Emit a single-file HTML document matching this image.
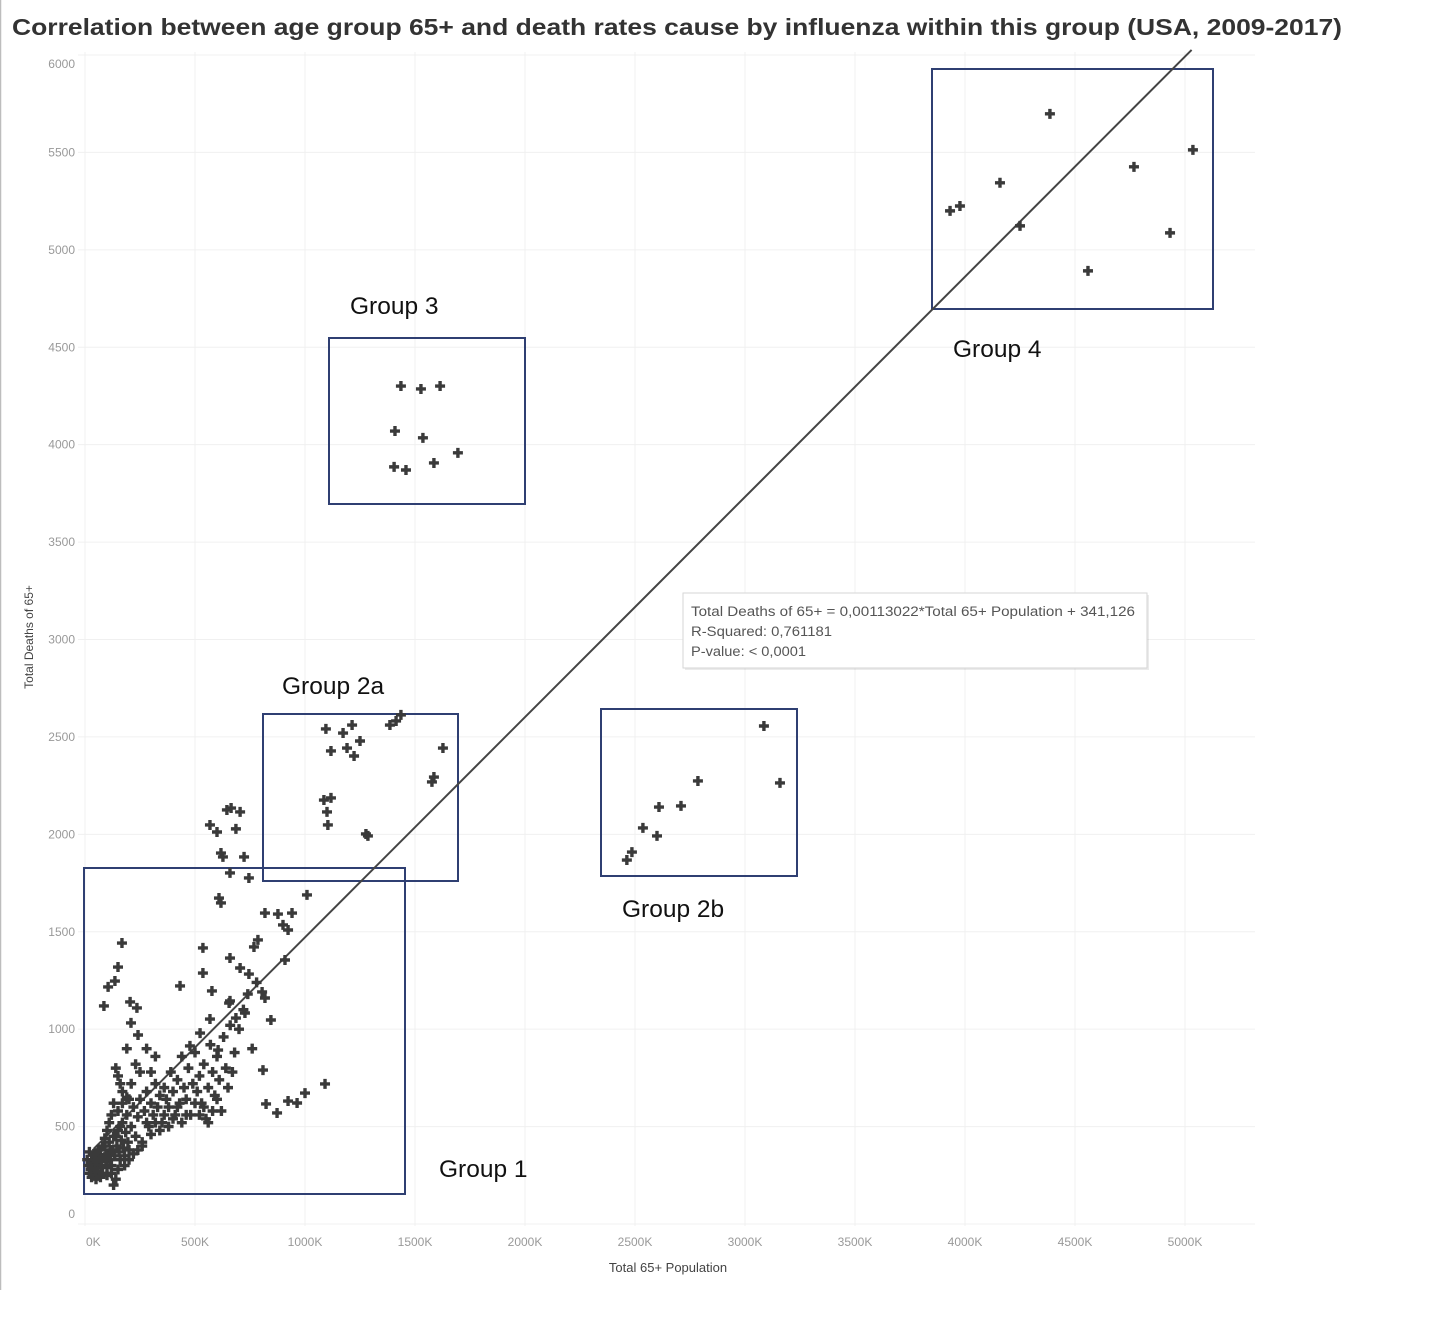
<!DOCTYPE html>
<html><head><meta charset="utf-8">
<style>
html,body{margin:0;padding:0;background:#fff;}
svg{display:block;font-family:"Liberation Sans",sans-serif;}
</style></head>
<body>
<svg id="chart" width="1448" height="1318" viewBox="0 0 1448 1318">
<line x1="0.5" y1="0" x2="0.5" y2="1290" stroke="#bdbdbd" stroke-width="1.5"/>
<text x="12" y="35" font-size="23" font-weight="bold" fill="#333" textLength="1330" lengthAdjust="spacingAndGlyphs">Correlation between age group 65+ and death rates cause by influenza within this group (USA, 2009-2017)</text>
<g id="grid"></g>
<g id="ticks"></g>
<text x="668" y="1272" font-size="13" fill="#444" text-anchor="middle">Total 65+ Population</text>
<text transform="translate(33,637) rotate(-90)" font-size="12" fill="#444" text-anchor="middle">Total Deaths of 65+</text>
<g id="boxes"></g>
<g id="line"></g>
<g id="points"></g>
<g>
<text x="350" y="314" font-size="24.5" fill="#111">Group 3</text>
<text x="953" y="357" font-size="24.5" fill="#111">Group 4</text>
<text x="282" y="694" font-size="24.5" fill="#111">Group 2a</text>
<text x="622" y="917" font-size="24.5" fill="#111">Group 2b</text>
<text x="439" y="1177" font-size="24.5" fill="#111">Group 1</text>
</g>
<g>
<rect x="685" y="595" width="464" height="75" fill="#000" opacity="0.08"/>
<rect x="683" y="593" width="464" height="75" fill="#fff" stroke="#d6d6d6"/>
<text x="691" y="616" font-size="13.5" fill="#555" textLength="444" lengthAdjust="spacingAndGlyphs">Total Deaths of 65+ = 0,00113022*Total 65+ Population + 341,126</text>
<text x="691" y="636" font-size="13.5" fill="#555" textLength="141" lengthAdjust="spacingAndGlyphs">R-Squared: 0,761181</text>
<text x="691" y="656" font-size="13.5" fill="#555" textLength="115" lengthAdjust="spacingAndGlyphs">P-value: &lt; 0,0001</text>
</g>
</svg>
<script>
const xTicks = [0,500,1000,1500,2000,2500,3000,3500,4000,4500,5000];
const xTickLabels = ["0K","500K","1000K","1500K","2000K","2500K","3000K","3500K","4000K","4500K","5000K"];
const yTicks = [0,500,1000,1500,2000,2500,3000,3500,4000,4500,5000,5500,6000];
const slope = 0.00113022;
const intercept = 341.126;
// population in thousands
const group4Pop = [3932,3977,4159,4250,4386,4559,4768,4932,5036];
const group4Deaths = [5200,5225,5344,5123,5698,4892,5426,5087,5513];
const group3Pop = [1436,1527,1614,1409,1536,1405,1459,1586,1695];
const group3Deaths = [4301,4286,4301,4070,4035,3886,3870,3906,3958];
const group2bPop = [3086,3159,2786,2709,2609,2536,2600,2486,2463];
const group2bDeaths = [2556,2264,2274,2146,2140,2033,1992,1909,1868];
const group2aPop = [1095,1173,1214,1118,1191,1223,1250,1386,1414,1436,1627,1586,1577,1086,1118,1100,1104,1277,1286,568,645,664,705,600,686,618,627,723,659,745,609,618,1009];
const group2aDeaths = [2541,2520,2561,2428,2443,2402,2479,2561,2582,2613,2443,2294,2269,2176,2187,2115,2048,2002,1992,2048,2125,2135,2115,2012,2028,1904,1884,1884,1802,1776,1673,1648,1689];
const group1Pop = [818,877,900,923,941,768,786,536,659,705,745,909,805,818,845,809,823,873,923,964,1000,1091,568,659,605,477,432,168,150,105,136,205,236,86,209,241,536,577,655,686,727,523,
20,25,30,35,40,45,50,55,60,65,70,75,80,85,90,95,100,105,110,115,120,125,130,135,140,145,150,155,160,165,170,175,180,185,190,195,200,210,220,230,240,250,260,270,280,290,300,310,320,330,340,350,360,370,380,390,400,410,420,430,440,450,460,470,480,490,500,510,520,530,540,550,560,570,580,590,600,610,620,630,640,650,660,670,680,700,720,740,760,780,140,150,160,170,130,120,110,100,90,80,60,40,30,50,70,100,120,150,180,200,220,240,260,130,280,300,320,340,360,380,400,420,440,460,500,520,540,560,580,600,150,170,190,210,230,190,280,320,300,250,200,160,140,115,95,75,55,45,25,15,10,20];
const group1Deaths = [1596,1591,1535,1509,1596,1422,1458,1417,1365,1314,1283,1355,1191,1160,1047,790,616,570,631,621,672,719,1052,1145,893,914,1222,1442,1319,1217,1247,1140,1109,1119,1032,970,1288,1196,1134,1057,1083,980,
260,300,330,280,250,310,350,290,270,330,380,300,260,340,400,320,290,360,420,330,300,380,450,350,230,400,480,370,330,430,520,390,350,470,560,420,380,500,600,450,550,640,420,580,680,500,620,560,720,600,660,520,700,640,600,780,680,560,740,620,860,700,640,800,560,720,880,680,760,620,820,540,700,920,780,660,860,740,580,960,800,700,1020,780,880,1000,1100,1180,900,1240,800,760,720,680,620,560,520,480,440,400,380,360,240,230,240,250,260,280,300,330,360,380,400,200,520,460,520,480,560,500,540,600,520,560,620,560,600,520,580,640,580,620,650,720,820,900,900,860,780,780,640,500,450,380,350,330,320,270,280,300,330,370];

const X0 = 85, XPER = 110/500;     // px per K
const Y0 = 1224, YPER = 1169/6000; // px per death
function xs(v){ return X0 + v*XPER; }
function ys(v){ return Y0 - v*YPER; }
const NS = "http://www.w3.org/2000/svg";
function mk(tag, attrs, parent){ const e=document.createElementNS(NS,tag); for(const k in attrs) e.setAttribute(k,attrs[k]); parent.appendChild(e); return e; }

const grid = document.getElementById('grid'), ticks = document.getElementById('ticks');
xTicks.forEach((t,i)=>{
  const l = mk('line',{x1:xs(t),x2:xs(t),y1:52,y2:1226,stroke:'#f0f0f0','stroke-width':1},grid);
  
  
  const tx = mk('text',{x:xs(t)+(i===0?1:0),y:1246,'font-size':12,fill:'#999','text-anchor':i===0?'start':'middle'},ticks);
  tx.textContent = xTickLabels[i];
  
  
});
yTicks.forEach((t,i)=>{
  const l = mk('line',{x1:78,x2:1255,y1:ys(t),y2:ys(t),stroke:'#f0f0f0','stroke-width':1},grid);
  
  
  let dy = 4; if(i===0) dy=-6; if(i===yTicks.length-1) dy=13;
  const tx = mk('text',{x:75,y:ys(t)+dy,'font-size':12,fill:'#999','text-anchor':'end'},ticks);
  tx.textContent = String(t);
  
  
});

const lineG = document.getElementById('line');
const xa = 40, xb = 5030;
const tl = mk('line',{x1:xs(xa),y1:ys(intercept+slope*xa*1000),x2:xs(xb),y2:ys(intercept+slope*xb*1000),stroke:'#444','stroke-width':2},lineG);



const boxG = document.getElementById('boxes');
const boxes = [[84,868,321,326,'box-group-1'],[263,714,195,167,'box-group-2a'],[329,338,196,166,'box-group-3'],[932,69,281,240,'box-group-4'],[601,709,196,167,'box-group-2b']];
boxes.forEach(b=>{
  const r = mk('rect',{x:b[0],y:b[1],width:b[2],height:b[3],fill:'none',stroke:'#2f3f72','stroke-width':2},boxG);
  
  
});

const ptsG = document.getElementById('points');
function plus(px,py,name){
  const p = mk('path',{d:`M${px-5},${py}H${px+5}M${px},${py-5}V${py+5}`,stroke:'#3a3a3a','stroke-width':3.4,'stroke-linecap':'butt'},ptsG);
  
  
}
[[group1Pop,group1Deaths,'point-group-1'],[group2aPop,group2aDeaths,'point-group-2a'],[group2bPop,group2bDeaths,'point-group-2b'],[group3Pop,group3Deaths,'point-group-3'],[group4Pop,group4Deaths,'point-group-4']].forEach(g=>{
  g[0].forEach((v,i)=>plus(xs(v),ys(g[1][i]),g[2]));
});
</script>
</body></html>
